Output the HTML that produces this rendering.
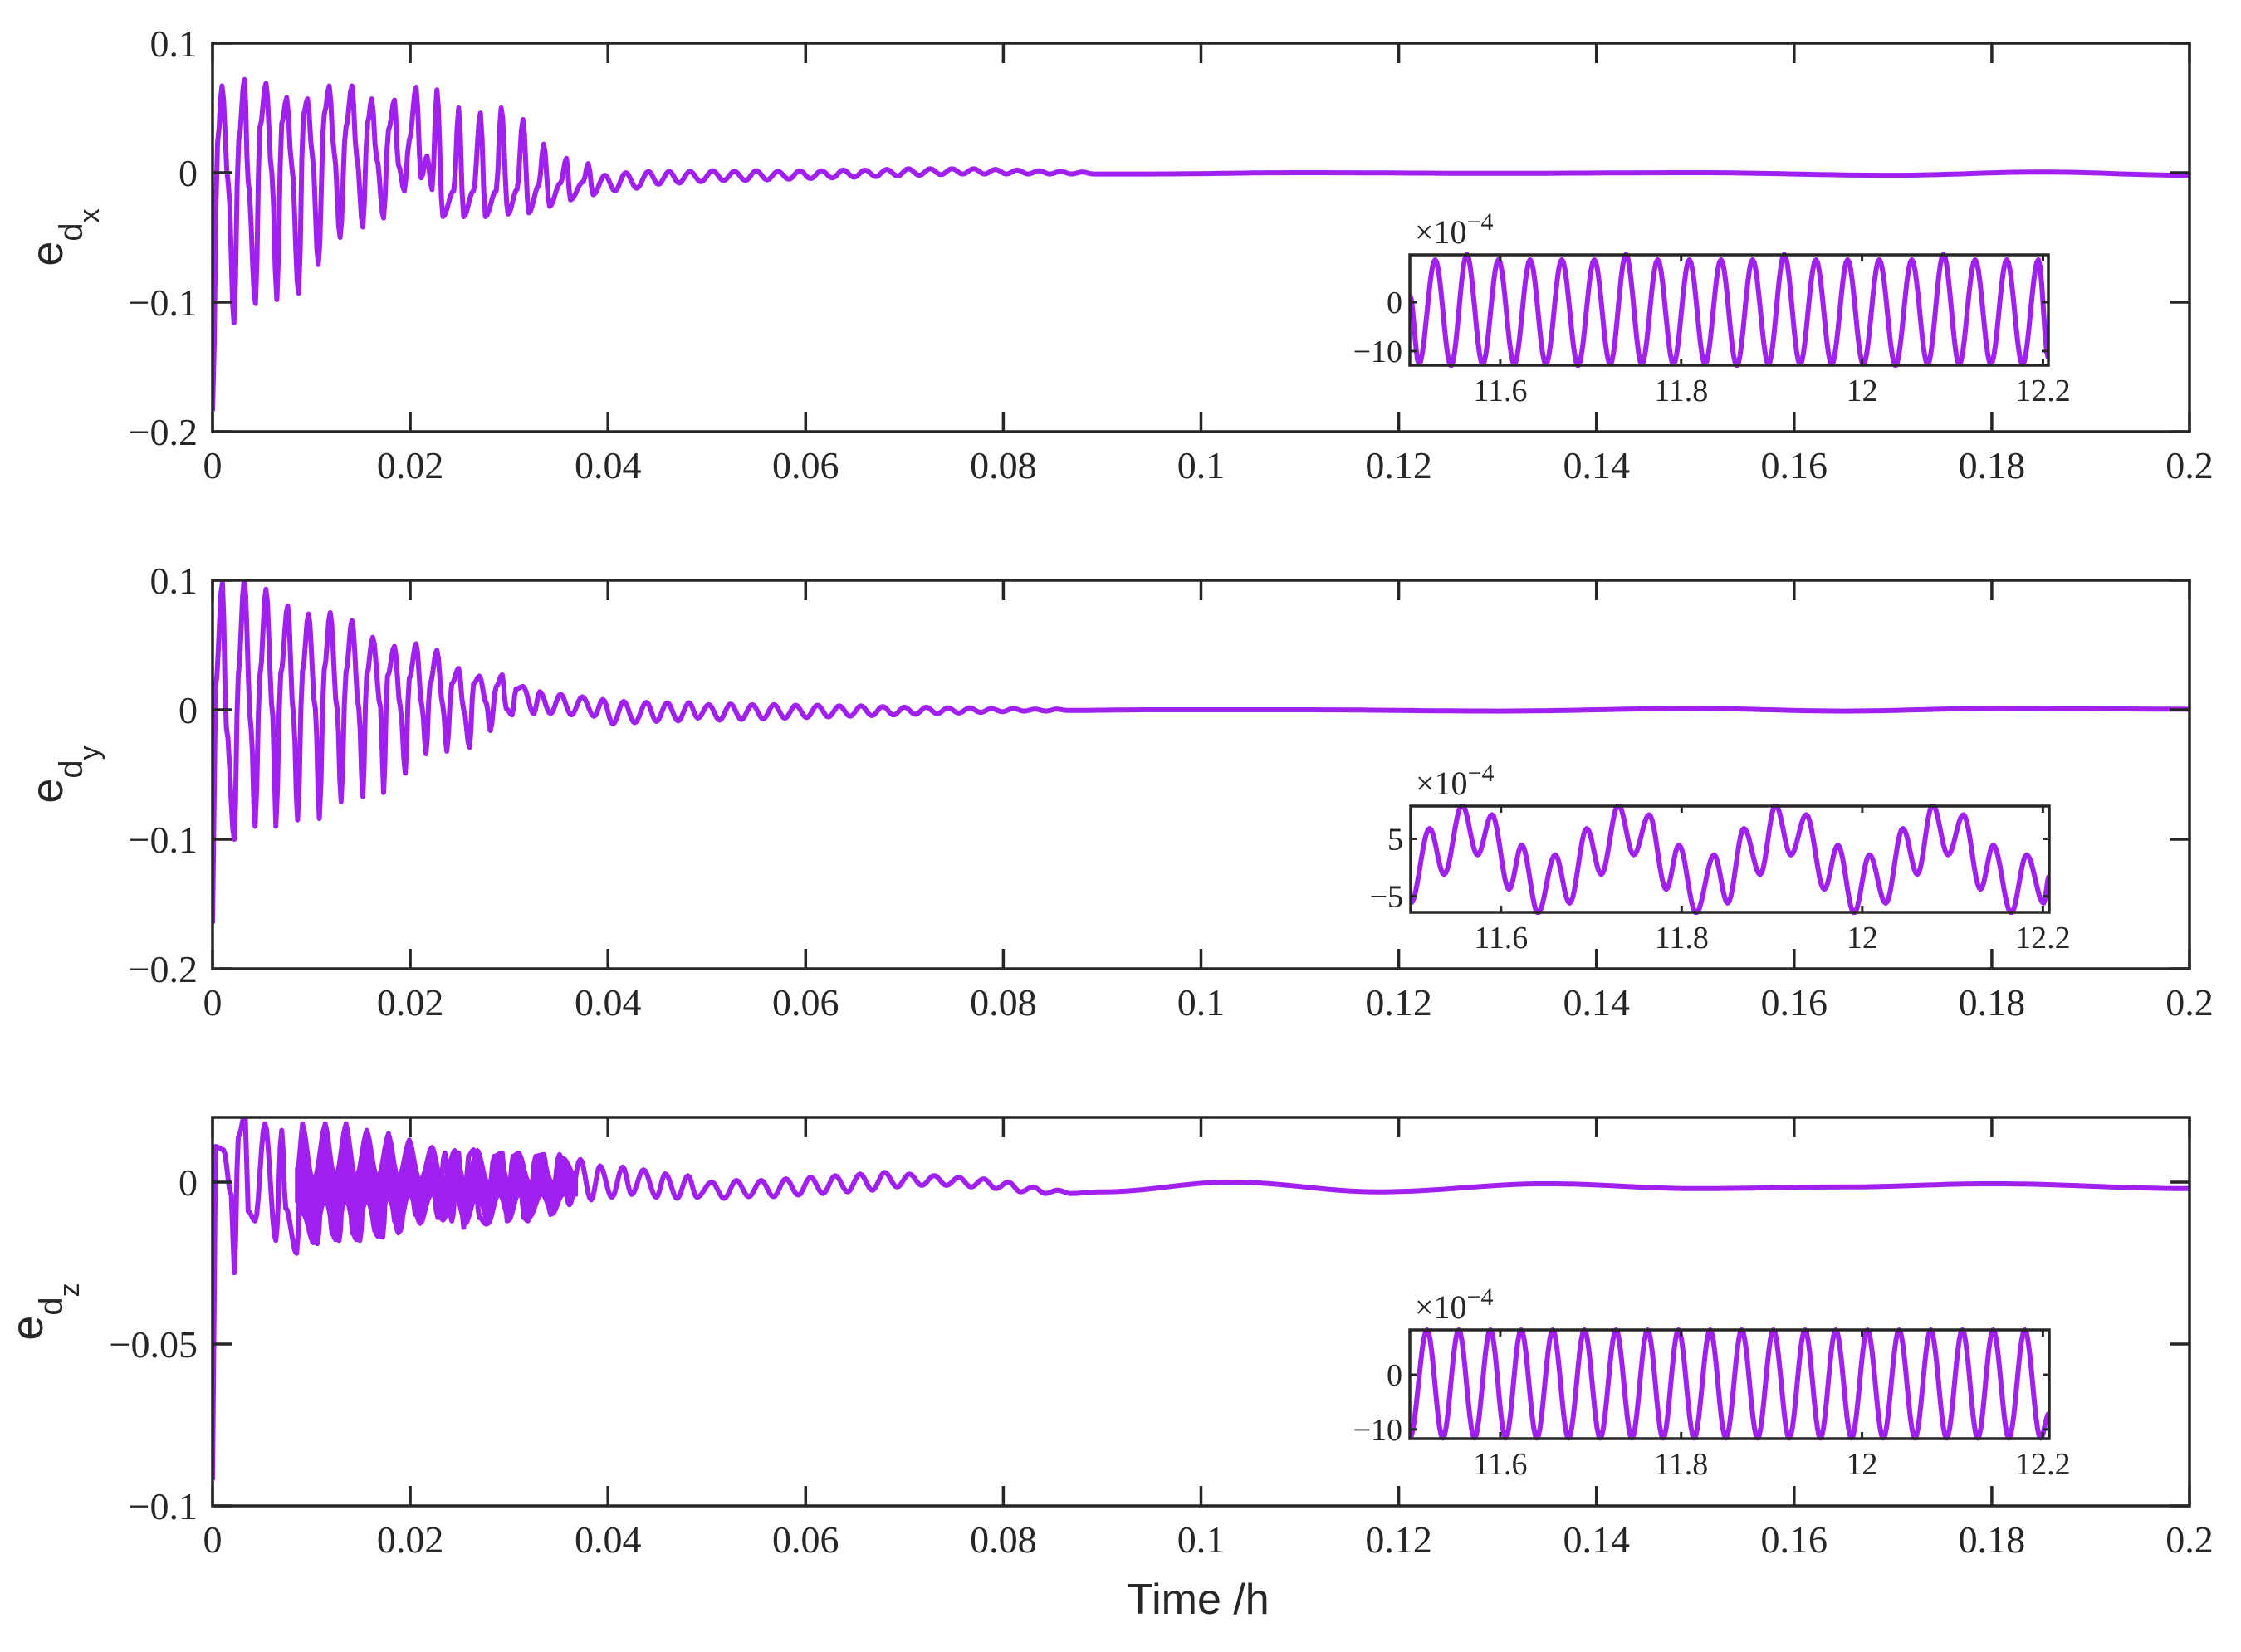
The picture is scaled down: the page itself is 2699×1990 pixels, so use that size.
<!DOCTYPE html>
<html><head><meta charset="utf-8"><style>
html,body{margin:0;padding:0;background:#fff;}
svg{display:block;}
</style></head><body>
<svg id="fig" xmlns="http://www.w3.org/2000/svg" width="2699" height="1990" viewBox="0 0 2699 1990">
<rect x="0" y="0" width="2699" height="1990" fill="#fff"/>
<text x="1443" y="1944" font-family="Liberation Sans, sans-serif" font-size="52" fill="#262626" text-anchor="middle">Time /h</text>
</svg>
<script>
// ---------- data ----------
const xTickVals = [0,0.02,0.04,0.06,0.08,0.1,0.12,0.14,0.16,0.18,0.2];
const xTickLabels = ["0","0.02","0.04","0.06","0.08","0.1","0.12","0.14","0.16","0.18","0.2"];
const yTicks1 = [0.1,0,-0.1,-0.2];
const yTickLabels1 = ["0.1","0","\u22120.1","\u22120.2"];
const yTicks2 = [0.1,0,-0.1,-0.2];
const yTickLabels2 = ["0.1","0","\u22120.1","\u22120.2"];
const yTicks3 = [0,-0.05,-0.1];
const yTickLabels3 = ["0","\u22120.05","\u22120.1"];

// panel 1 (e_dx) extrema
const t1 = [0,0.0005,0.00096,0.0016,0.00217,0.00265,0.00323,0.0036,0.00434,0.0048,0.0054,0.006,0.0065,0.007,0.0075,0.008,0.0087,0.0092,0.0096,0.0101,0.0107,0.0113,0.0118,0.0123,0.0129,0.0135,0.0141,0.0146,0.0152,0.0157,0.0161,0.0166,0.0173,0.0178,0.0184,0.0188,0.0194,0.0199,0.0206,0.0211,0.0217,0.0222,0.0227,0.0233,0.0244,0.0249,0.0254,0.0264,0.0271,0.0276,0.0287,0.0292,0.0299,0.0308,0.0314,0.032,0.033,0.0335,0.0341,0.0352,0.0358,0.0362,0.0375,0.038,0.0385,0.0397,0.0407,0.0418,0.0429,0.0441,0.0451,0.0462,0.0472,0.0483,0.0494,0.0506,0.0517];
const v1 = [-0.184,0.023,0.067,-0.009,-0.116,0.025,0.072,-0.007,-0.101,0.035,0.069,0,-0.098,0.038,0.058,0.006,-0.093,0.045,0.057,0.013,-0.071,0.045,0.067,0.016,-0.05,0.035,0.067,0.011,-0.042,0.039,0.057,0.011,-0.035,0.033,0.056,0.006,-0.014,0.025,0.066,-0.004,0.013,-0.013,0.064,-0.034,-0.014,0.05,-0.034,-0.014,0.046,-0.034,-0.014,0.05,-0.032,-0.013,0.041,-0.031,-0.01,0.022,-0.026,-0.008,0.011,-0.021,-0.007,0.007,-0.017,-0.002,-0.014,0,-0.012,0.001,-0.009,0.001,-0.008,0.001,-0.007,0.0015,-0.006];
const tail1Start = 0.0528, tail1Step = 0.0011;
const tail1 = [0.001,-0.006,0.0015,-0.0055,0.001,-0.005,0.0015,-0.0045,0.0015,-0.004,0.002,-0.0035,0.002,-0.003,0.0025,-0.0025,0.003,-0.002,0.003,-0.0015,0.003,-0.001,0.003,-0.001,0.0025,-0.001,0.002,-0.001,0.0015,-0.001,0.001,-0.001,0.0005,-0.001];
const slowT1 = [0.095,0.11,0.13,0.15,0.17,0.185,0.2];
const slowV1 = [-0.001,0,-0.0005,0,-0.002,0.0005,-0.002];

// panel 2 (e_dy)
const t2 = [0,0.0003,0.001,0.0014,0.0022,0.0026,0.0032,0.0039,0.0043,0.0048,0.0054,0.0061,0.0064,0.0069,0.0076,0.0082,0.0086,0.0091,0.0097,0.0104,0.0108,0.0113,0.0119,0.0126,0.013,0.0135,0.0141,0.0148,0.0152,0.0156,0.0162,0.017,0.0173,0.0177,0.0184,0.019,0.0195,0.0199,0.0206,0.0212,0.0216,0.022,0.0227,0.0233,0.0237,0.0242,0.0249,0.0254,0.026,0.0264,0.027,0.0277,0.0281,0.0287,0.0293,0.0297,0.0303,0.0307,0.0314,0.0325,0.0331,0.0342,0.0352,0.0363,0.0374,0.0386,0.0395,0.0405,0.0416,0.0427,0.0439,0.0449,0.046,0.0471,0.0482,0.0491];
const v2 = [-0.165,0.018,0.098,-0.014,-0.1,0.027,0.1,-0.014,-0.09,0.027,0.093,-0.005,-0.09,0.028,0.08,-0.005,-0.085,0.03,0.074,0.001,-0.084,0.031,0.075,0.001,-0.071,0.029,0.069,0.001,-0.067,0.027,0.056,0.002,-0.064,0.026,0.049,0.002,-0.049,0.024,0.051,0.002,-0.034,0.02,0.046,0.003,-0.032,0.02,0.032,0,-0.029,0.02,0.026,0.005,-0.016,0.018,0.027,0.001,-0.004,0.016,0.018,-0.003,0.014,-0.003,0.012,-0.004,0.01,-0.005,0.008,-0.011,0.0064,-0.01,0.0058,-0.009,0.0054,-0.0086,0.0054,-0.0064];
const tail2Start = 0.0502, tail2Step = 0.0011;
const tail2 = [0.004,-0.008,0.0045,-0.0075,0.004,-0.007,0.004,-0.0065,0.0035,-0.006,0.0035,-0.0055,0.003,-0.005,0.003,-0.0045,0.0025,-0.004,0.002,-0.0035,0.002,-0.003,0.0015,-0.0025,0.0015,-0.002,0.001,-0.0015,0.001,-0.001,0.0005,-0.001,0.0005,-0.0005];
const slowT2 = [0.095,0.11,0.13,0.15,0.165,0.18,0.2];
const slowV2 = [0,0,-0.001,0.001,-0.001,0.001,0.0005];

// panel 3 (e_dz)
const t3 = [0,0.0003,0.0011,0.0019,0.0022,0.0026,0.0033,0.0036,0.0043,0.0053,0.0064,0.007,0.0074,0.0085,0.0091,0.0098,0.0106,0.0114,0.0121,0.0128,0.0135,0.0142,0.0149,0.0156,0.0164,0.0172,0.0178,0.0184,0.019,0.0199,0.0205,0.0212,0.022,0.0228,0.0235,0.0242,0.0249,0.0254,0.0259,0.0264,0.027,0.0277,0.0285,0.0293,0.0298,0.0304,0.031,0.0315,0.0319,0.0327,0.0335,0.0342,0.0351,0.0361,0.0372,0.0383,0.0392,0.0404,0.0415,0.0424,0.0436,0.0449,0.0458,0.047,0.0481,0.049];
const v3 = [-0.092,0.011,0.01,-0.004,-0.028,0.014,0.021,-0.009,-0.012,0.018,-0.018,0.016,-0.008,-0.022,0.018,-0.014,-0.019,0.018,-0.016,-0.018,0.018,-0.016,-0.018,0.016,-0.015,-0.017,0.015,-0.012,-0.015,0.013,-0.01,-0.012,0.01,-0.011,0.009,-0.012,0.009,-0.014,0.008,0.01,-0.011,-0.013,0.008,0.009,-0.012,0.008,0.009,-0.011,-0.012,0.008,0.0085,-0.01,0.0085,-0.007,0.007,-0.0055,0.005,-0.0047,0.0047,-0.0038,0.0038,-0.0047,0.0026,-0.005,0.002,-0.0047];
const tail3Start = 0.0505, tail3Step = 0.00125;
const tail3 = [0.000,-0.005,0.0005,-0.0045,0.0005,-0.0045,0.001,-0.004,0.0015,-0.0035,0.002,-0.003,0.0025,-0.0025,0.003,-0.0015,0.0025,-0.001,0.002,-0.001,0.0015,-0.0015,0.001,-0.002,0.0,-0.003,-0.0015,-0.0035,-0.0025,-0.0035];
const slowT3 = [0.09,0.103,0.118,0.135,0.15,0.165,0.18,0.2];
const slowV3 = [-0.003,0.0,-0.003,-0.0005,-0.002,-0.0015,-0.0005,-0.002];
// panel 3 dense burst envelope
const burstT  = [0.0085,0.0091,0.0102,0.0114,0.0124,0.0135,0.0145,0.0156,0.0167,0.0178,0.0188,0.0199,0.0210,0.0222,0.0233,0.0245,0.0256,0.0268,0.0279,0.0290,0.0300,0.0310,0.0321,0.0333,0.0344,0.0355,0.0368];
const burstUp = [0.004,0.018,0.001,0.018,0.002,0.018,0.002,0.016,0.002,0.015,0.002,0.013,0.001,0.011,0.000,0.010,0.000,0.010,0.000,0.009,0.000,0.009,0.000,0.0085,0.000,0.0075,0.002];
const burstLo = [-0.006,-0.010,-0.019,-0.006,-0.018,-0.006,-0.018,-0.006,-0.017,-0.005,-0.016,-0.004,-0.013,-0.004,-0.012,-0.004,-0.013,-0.004,-0.013,-0.004,-0.012,-0.004,-0.011,-0.004,-0.010,-0.004,-0.004];

// insets (values in units of 1e-4)
const insetXTicks = [11.6,11.8,12,12.2];
const insetXTickLabels = ["11.6","11.8","12","12.2"];
const in1T = [11.5,11.510,11.528,11.5455,11.563,11.5805,11.598,11.6155,11.633,11.6505,11.668,11.686,11.704,11.7215,11.739,11.7565,11.774,11.7915,11.809,11.8265,11.844,11.8615,11.879,11.8965,11.914,11.9315,11.949,11.9665,11.984,12.0015,12.019,12.037,12.055,12.0725,12.090,12.1075,12.125,12.1425,12.160,12.1775,12.195,12.206];
const in1V = [1.5,-12.7,8.7,-13,9.8,-12.7,8.7,-12.7,8.7,-12.7,8.7,-13,8.7,-12.7,9.8,-12.7,8.7,-12.7,8.7,-12.7,8.7,-13,8.7,-12.7,9.8,-12.7,8.7,-12.7,8.7,-12.7,8.7,-13,8.7,-12.7,9.8,-12.7,8.7,-12.7,8.7,-12.7,8.7,-11.5];
const in1YTicks = [0,-10], in1YLabels = ["0","\u221210"];
const in2T = [11.5,11.521,11.537,11.557,11.574,11.590,11.609,11.623,11.641,11.660,11.676,11.695,11.711,11.730,11.747,11.764,11.783,11.797,11.816,11.836,11.851,11.869,11.887,11.904,11.921,11.938,11.958,11.973,11.991,12.008,12.026,12.045,12.061,12.078,12.095,12.112,12.131,12.145,12.165,12.182,12.201,12.207];
const in2V = [-6.2,6.8,-1.2,10.9,2.2,9.2,-3.8,3.9,-7.9,2.2,-6.2,6.8,-1.2,10.9,2.2,9.2,-3.8,3.9,-7.9,2.2,-6.2,6.8,-1.2,10.9,2.2,9.2,-3.8,3.9,-7.9,2.2,-6.2,6.8,-1.2,10.9,2.2,9.2,-3.8,3.9,-7.9,2.2,-6.2,-1.4];
const in2YTicks = [5,-5], in2YLabels = ["5","\u22125"];
const in3T = [11.5,11.519,11.5365,11.554,11.5715,11.589,11.606,11.623,11.6405,11.658,11.6755,11.693,11.7105,11.728,11.7455,11.763,11.780,11.797,11.8145,11.832,11.8495,11.867,11.8845,11.902,11.9195,11.937,11.954,11.971,11.9885,12.006,12.0235,12.041,12.0585,12.076,12.0935,12.111,12.128,12.145,12.1625,12.180,12.1975,12.207];
const in3V = [-11.5,8.2,-11.6,8.2,-11.6,8.2,-11.6,8.2,-11.6,8.2,-11.6,8.2,-11.6,8.2,-11.6,8.2,-11.6,8.2,-11.6,8.2,-11.6,8.2,-11.6,8.2,-11.6,8.2,-11.6,8.2,-11.6,8.2,-11.6,8.2,-11.6,8.2,-11.6,8.2,-11.6,8.2,-11.6,8.2,-11.6,-7];
const in3YTicks = [0,-10], in3YLabels = ["0","\u221210"];

// ---------- drawing ----------
const NS = "http://www.w3.org/2000/svg";
const svg = document.getElementById("fig");
const AX = "#262626", LINE = "#A020F0";
const SERIF = "Liberation Serif, serif", SANS = "Liberation Sans, sans-serif";
function mk(tag, attrs, parent){ const e=document.createElementNS(NS,tag); for(const k in attrs) e.setAttribute(k,attrs[k]); (parent||svg).appendChild(e); return e; }
function combine(T,V,ts,st,tail,sT,sV){ const tt=T.slice(), vv=V.slice(); for(let i=0;i<tail.length;i++){tt.push(ts+i*st); vv.push(tail[i]);} for(let i=0;i<sT.length;i++){tt.push(sT[i]); vv.push(sV[i]);} return [tt,vv]; }
function ptsFrom(T,V,sx,sy){
  const pts=[[sx(T[0]),sy(V[0])]];
  for(let i=1;i<T.length;i++){
    const x0=sx(T[i-1]),x1=sx(T[i]),y0=sy(V[i-1]),y1=sy(V[i]);
    const n=Math.max(2,Math.min(16,Math.ceil((x1-x0)/2)));
    for(let k=1;k<=n;k++){ const f=k/n, c=(1-Math.cos(Math.PI*f))/2; pts.push([x0+(x1-x0)*f, y0+(y1-y0)*c]); }
  }
  return pts;
}
function pathFrom(T,V,sx,sy){
  const p=ptsFrom(T,V,sx,sy);
  return "M"+p.map(q=>q[0].toFixed(1)+" "+q[1].toFixed(1)).join(" L");
}
let clipId=0;
function panel(idx,top,ylim,yT,yL,T,V,ylabelSub,ylabelX,band){
  const L=256,R=2637,H=468,B=top+H;
  const g=mk("g",{});
  
  
  const sx=t=>L+(t-0)/(0.2-0)*(R-L);
  const sy=v=>B-(v-ylim[0])/(ylim[1]-ylim[0])*H;
  const cid="c"+(clipId++);
  const cp=mk("clipPath",{id:cid},g); mk("rect",{x:L,y:top,width:R-L,height:H},cp);
  if(band){
    const up=ptsFrom(band[0],band[1],sx,sy), lo=ptsFrom(band[0],band[2],sx,sy).reverse();
    const d="M"+up.concat(lo).map(q=>q[0].toFixed(1)+" "+q[1].toFixed(1)).join(" L")+" Z";
    const bp=mk("path",{d:d,fill:LINE,stroke:LINE,"stroke-width":4,"stroke-linejoin":"round","clip-path":"url(#"+cid+")"},g);
    
    
  }
  const ln=mk("path",{d:pathFrom(T,V,sx,sy),fill:"none",stroke:LINE,"stroke-width":6,"stroke-linejoin":"round","clip-path":"url(#"+cid+")"},g);
  
  
  mk("rect",{x:L,y:top,width:R-L,height:H,fill:"none",stroke:AX,"stroke-width":3.5},g);
  const tg=mk("g",{},g);
  
  
  for(let i=0;i<xTickVals.length;i++){
    const x=sx(xTickVals[i]);
    mk("line",{x1:x,y1:B,x2:x,y2:B-24,stroke:AX,"stroke-width":3.5},tg);
    mk("line",{x1:x,y1:top,x2:x,y2:top+24,stroke:AX,"stroke-width":3.5},tg);
    const tx=mk("text",{x:x,y:B+56,"font-family":SERIF,"font-size":46,fill:AX,"text-anchor":"middle"},tg); tx.textContent=xTickLabels[i];
  }
  const yg=mk("g",{},g);
  
  
  for(let i=0;i<yT.length;i++){
    const y=sy(yT[i]);
    mk("line",{x1:L,y1:y,x2:L+24,y2:y,stroke:AX,"stroke-width":3.5},yg);
    mk("line",{x1:R,y1:y,x2:R-24,y2:y,stroke:AX,"stroke-width":3.5},yg);
    const tx=mk("text",{x:L-18,y:y+16,"font-family":SERIF,"font-size":46,fill:AX,"text-anchor":"end"},yg); tx.textContent=yL[i];
  }
  const yl=mk("text",{transform:"translate("+ylabelX+","+(top+H/2)+") rotate(-90)","font-family":SANS,"font-size":54,fill:AX,"text-anchor":"middle"},g);
  
  
  const e1=mk("tspan",{},yl); e1.textContent="e";
  const e2=mk("tspan",{"font-size":40,dy:24},yl); e2.textContent="d";
  const e3=mk("tspan",{"font-size":34,dy:20},yl); e3.textContent=ylabelSub;
}
function inset(idx,L,T,R,B,xlim,ylim,tt,vv,yT,yL){
  const g=mk("g",{});
  
  
  mk("rect",{x:L,y:T,width:R-L,height:B-T,fill:"#fff"},g);
  const sx=t=>L+(t-xlim[0])/(xlim[1]-xlim[0])*(R-L);
  const sy=v=>B-(v-ylim[0])/(ylim[1]-ylim[0])*(B-T);
  const cid="c"+(clipId++);
  const cp=mk("clipPath",{id:cid},g); mk("rect",{x:L,y:T-3,width:R-L,height:B-T+6},cp);
  const ln=mk("path",{d:pathFrom(tt,vv,sx,sy),fill:"none",stroke:LINE,"stroke-width":6,"stroke-linejoin":"round","clip-path":"url(#"+cid+")"},g);
  
  
  mk("rect",{x:L,y:T,width:R-L,height:B-T,fill:"none",stroke:AX,"stroke-width":3.5},g);
  for(let i=0;i<insetXTicks.length;i++){
    const x=sx(insetXTicks[i]);
    mk("line",{x1:x,y1:B,x2:x,y2:B-8,stroke:AX,"stroke-width":3},g);
    mk("line",{x1:x,y1:T,x2:x,y2:T+8,stroke:AX,"stroke-width":3},g);
    const tx=mk("text",{x:x,y:B+43,"font-family":SERIF,"font-size":38,fill:AX,"text-anchor":"middle"},g); tx.textContent=insetXTickLabels[i];
  }
  for(let i=0;i<yT.length;i++){
    const y=sy(yT[i]);
    mk("line",{x1:L,y1:y,x2:L+8,y2:y,stroke:AX,"stroke-width":3},g);
    mk("line",{x1:R,y1:y,x2:R-8,y2:y,stroke:AX,"stroke-width":3},g);
    const tx=mk("text",{x:L-9,y:y+13,"font-family":SERIF,"font-size":38,fill:AX,"text-anchor":"end"},g); tx.textContent=yL[i];
  }
  const ex=mk("text",{x:L+6,y:T-14,"font-family":SERIF,"font-size":40,fill:AX},g);
  
  
  const a=mk("tspan",{},ex); a.textContent="\u00d710";
  const b=mk("tspan",{"font-size":30,dy:-16},ex); b.textContent="\u22124";
}
let s;
s=combine(t1,v1,tail1Start,tail1Step,tail1,slowT1,slowV1);
panel(1,52,[-0.2,0.1],yTicks1,yTickLabels1,s[0],s[1],"x",75,null);
s=combine(t2,v2,tail2Start,tail2Step,tail2,slowT2,slowV2);
panel(2,699,[-0.2,0.1],yTicks2,yTickLabels2,s[0],s[1],"y",75,null);
s=combine(t3,v3,tail3Start,tail3Step,tail3,slowT3,slowV3);
panel(3,1346,[-0.1,0.02],yTicks3,yTickLabels3,s[0],s[1],"z",51,[burstT,burstUp,burstLo]);
inset(1,1698,307,2467,440,[11.5,12.206],[-12.9,9.7],in1T,in1V,in1YTicks,in1YLabels);
inset(2,1699,971,2468,1099,[11.5,12.207],[-7.8,10.7],in2T,in2V,in2YTicks,in2YLabels);
inset(3,1698,1602,2468,1733,[11.5,12.207],[-11.7,8.2],in3T,in3V,in3YTicks,in3YLabels);
</script>
</body></html>
